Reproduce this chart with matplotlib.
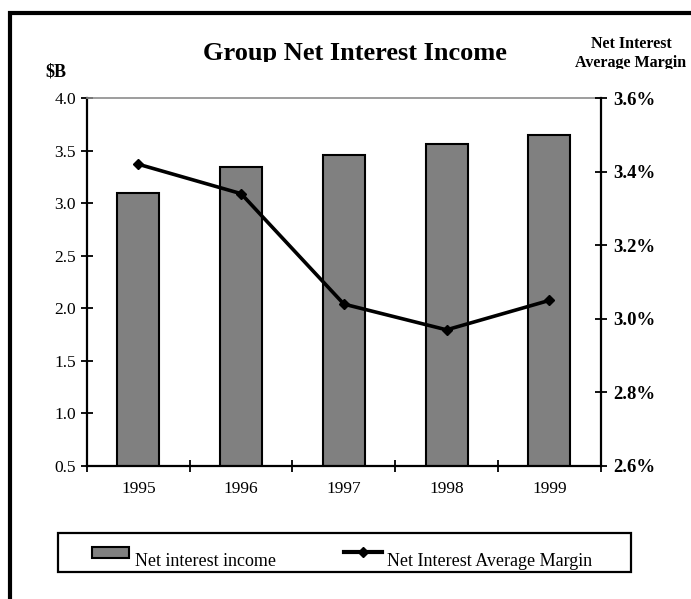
import matplotlib
matplotlib.use("Agg")
import matplotlib.pyplot as plt
from matplotlib.patches import Rectangle
from matplotlib.lines import Line2D

# Data
years = ["1995", "1996", "1997", "1998", "1999"]
net_interest_income = [3.10, 3.34, 3.46, 3.56, 3.65]      # $B
net_interest_margin = [3.42, 3.34, 3.04, 2.97, 3.05]      # %
left_ticks = [0.5, 1.0, 1.5, 2.0, 2.5, 3.0, 3.5, 4.0]
right_ticks = [2.6, 2.8, 3.0, 3.2, 3.4, 3.6]

W, H = 691, 599
SERIF = ["Liberation Serif", "DejaVu Serif"]
plt.rcParams["font.family"] = SERIF


def fx(px):
    return px / W


def fy(py):
    return 1 - py / H


fig = plt.figure(figsize=(W / 100, H / 100), dpi=100)
fig.patch.set_facecolor("white")

# Main axes (bars)
ax = fig.add_axes([fx(87), fy(466), (600.7 - 87) / W, (466 - 98) / H])
x = list(range(len(years)))
ax.bar(x, net_interest_income, width=0.41, color="#808080",
       edgecolor="black", linewidth=1.5, zorder=2)
ax.set_xlim(-0.5, len(years) - 0.5)
ax.set_ylim(left_ticks[0], left_ticks[-1])
ax.set_yticks(left_ticks)
ax.set_yticklabels([f"{v:.1f}" for v in left_ticks], fontsize=12.5)
ax.set_xticks([i - 0.5 for i in range(len(years) + 1)])
ax.set_xticklabels([])
ax.set_xticks(x, minor=True)
ax.set_xticklabels(years, minor=True, fontsize=12.5)
ax.tick_params(axis="x", which="major", direction="inout", length=8, width=1.3)
ax.tick_params(axis="x", which="minor", length=0, pad=11)
ax.tick_params(axis="y", direction="inout", length=8, width=1.3, pad=4)
ax.spines["top"].set_color("#8c8c8c")
ax.spines["top"].set_linewidth(1.2)
ax.spines["right"].set_visible(False)
for s in ("left", "bottom"):
    ax.spines[s].set_linewidth(1.6)
    ax.spines[s].set_color("black")

# Secondary axis (margin line)
ax2 = ax.twinx()
ax2.plot(x, net_interest_margin, color="black", linewidth=2.6,
         marker="D", markersize=5, zorder=3)
ax2.set_ylim(right_ticks[0], right_ticks[-1])
ax2.set_yticks(right_ticks)
ax2.set_yticklabels([f"{v:.1f}%" for v in right_ticks], fontsize=13.5,
                    fontweight="bold")
ax2.tick_params(axis="y", direction="inout", length=8, width=1.3, pad=5)
for s in ("left", "top", "bottom"):
    ax2.spines[s].set_visible(False)
ax2.spines["right"].set_linewidth(1.6)

# Headings (clipped along their lower edge)
def clipped_text(x_px, y_px, s, clip_y, **kw):
    t = fig.text(fx(x_px), fy(y_px), s, **kw)
    clip = Rectangle((0, fy(clip_y)), 1, 1 - fy(clip_y),
                     transform=fig.transFigure, visible=False)
    fig.add_artist(clip)
    t.set_clip_path(clip)
    return t

clipped_text(355, 60, "Group Net Interest Income", 61.5, ha="center",
             va="baseline", fontsize=19, fontweight="bold")
fig.text(fx(631), fy(48), "Net Interest", ha="center", va="baseline",
         fontsize=11.5, fontweight="bold")
clipped_text(631, 67, "Average Margin", 68.5, ha="center", va="baseline",
             fontsize=11.5, fontweight="bold")
fig.text(fx(45), fy(77), "$B", ha="left", va="baseline", fontsize=13,
         fontweight="bold")

# Legend
fig.add_artist(Rectangle((fx(57.7), fy(571.7)), (630.7 - 57.7) / W,
                         (571.7 - 533) / H, transform=fig.transFigure,
                         facecolor="white", edgecolor="black", linewidth=1.6))
fig.add_artist(Rectangle((fx(91.7), fy(558)), (129 - 91.7) / W, 11 / H,
                         transform=fig.transFigure, facecolor="#808080",
                         edgecolor="black", linewidth=1.5))
fig.text(fx(135), fy(565.5), "Net interest income", ha="left",
         va="baseline", fontsize=13)
fig.add_artist(Line2D([fx(344.3), fx(382.3)], [fy(552.3), fy(552.3)],
                      transform=fig.transFigure, color="black", linewidth=3))
fig.add_artist(Line2D([fx(363.3)], [fy(552.3)], transform=fig.transFigure,
                      color="black", marker="D", markersize=5,
                      linestyle="none"))
fig.text(fx(387.3), fy(565.5), "Net Interest Average Margin", ha="left",
         va="baseline", fontsize=13)

# Outer frame (left and top edges)
fig.add_artist(Line2D([fx(9.5), fx(9.5), fx(W + 5)],
                      [fy(H + 5), fy(13), fy(13)],
                      transform=fig.transFigure, color="black",
                      linewidth=3, solid_joinstyle="miter"))

fig.savefig("out.png", dpi=100, facecolor="white")
